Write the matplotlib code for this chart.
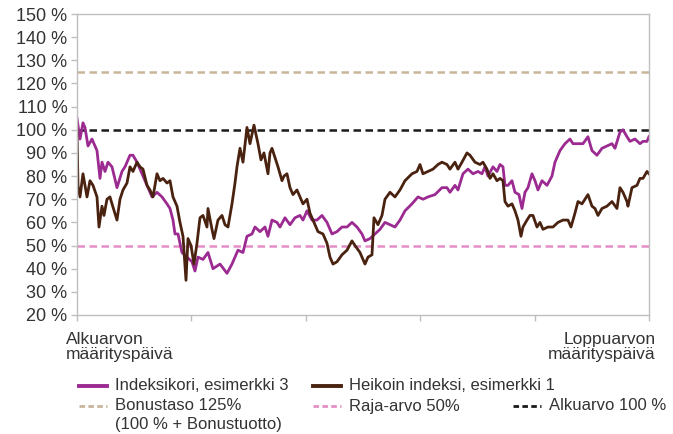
import matplotlib.pyplot as plt
from matplotlib.lines import Line2D

# Päivät (indeksi alusta loppuun) ja arvot prosentteina
purple_days = [0, 3, 6, 8, 11, 15, 17, 20, 23, 25, 28, 31, 35, 40, 45, 48, 53, 56, 60, 65,
               70, 75, 80, 85, 90, 93, 96, 98, 101, 105, 110, 115, 118, 121, 126, 131, 136, 143, 150, 155,
               161, 166, 170, 175, 178, 183, 188, 191, 195, 200, 203, 208, 213, 218, 223, 226, 230, 235, 240, 245,
               250, 255, 260, 265, 270, 275, 280, 285, 288, 293, 298, 303, 308, 313, 318, 323, 328, 335, 341, 346,
               351, 358, 365, 370, 373, 378, 381, 386, 391, 396, 401, 405, 408, 411, 416, 420, 423, 426, 428, 431,
               435, 438, 442, 445, 448, 451, 455, 458, 461, 465, 470, 475, 478, 483, 488, 493, 496, 501, 506, 511,
               515, 520, 525, 530, 535, 538, 543, 546, 550, 553, 558, 563, 566, 570, 572]
purple_vals = [105, 96, 103, 101, 93, 96, 94, 91, 79, 86, 82, 86, 84, 75, 82, 84, 89, 89, 86, 81,
               76, 71, 73, 71, 68, 66, 61, 55, 55, 47, 45, 43, 39, 45, 44, 47, 40, 42, 38, 42,
               48, 47, 54, 55, 58, 56, 58, 54, 61, 60, 58, 62, 59, 62, 63, 61, 65, 61, 61, 63,
               60, 55, 56, 58, 58, 60, 58, 55, 52, 53, 55, 57, 60, 59, 58, 61, 65, 68, 71, 70,
               71, 72, 75, 75, 73, 76, 74, 81, 83, 81, 82, 81, 84, 80, 84, 82, 85, 84, 76, 76,
               78, 73, 72, 66, 73, 75, 81, 78, 74, 78, 76, 80, 86, 91, 94, 96, 94, 94, 94, 97,
               91, 89, 92, 93, 94, 92, 99, 100, 97, 95, 96, 94, 95, 95, 97]

brown_days = [0, 1, 3, 6, 10, 13, 16, 20, 22, 25, 27, 30, 33, 35, 40, 43, 46, 50, 53, 56,
              60, 63, 66, 70, 73, 76, 80, 83, 86, 90, 93, 96, 100, 103, 106, 109, 111, 114, 117, 120,
              123, 126, 130, 131, 135, 137, 141, 145, 148, 151, 155, 158, 160, 163, 166, 170, 173, 177, 181, 184,
              187, 191, 193, 195, 198, 201, 205, 207, 210, 213, 216, 220, 223, 226, 230, 233, 238, 241, 246, 250,
              253, 256, 260, 265, 270, 275, 278, 283, 288, 291, 295, 297, 301, 305, 308, 313, 318, 323, 328, 335,
              340, 343, 346, 351, 356, 361, 365, 370, 373, 378, 381, 385, 390, 393, 398, 403, 406, 410, 413, 416,
              420, 423, 426, 428, 431, 435, 438, 441, 444, 446, 450, 453, 456, 460, 463, 466, 471, 476, 481, 486,
              491, 494, 498, 501, 505, 508, 511, 515, 518, 521, 525, 530, 535, 540, 543, 546, 550, 551, 555, 560,
              563, 566, 570, 572]
brown_vals = [100, 76, 71, 81, 71, 78, 76, 71, 58, 67, 63, 70, 71, 68, 61, 70, 74, 77, 84, 82,
              86, 84, 83, 76, 74, 71, 81, 78, 79, 77, 78, 71, 67, 60, 54, 35, 53, 50, 42, 51,
              62, 63, 58, 66, 57, 53, 61, 63, 59, 58, 68, 77, 84, 92, 86, 101, 94, 102, 94, 87,
              90, 81, 90, 92, 88, 84, 78, 80, 81, 75, 72, 74, 71, 68, 70, 64, 59, 56, 55, 51,
              45, 42, 43, 46, 48, 52, 50, 47, 42, 45, 46, 62, 59, 63, 70, 73, 71, 74, 78, 81,
              82, 85, 81, 82, 83, 85, 86, 85, 83, 86, 83, 86, 90, 89, 86, 85, 86, 83, 79, 81,
              78, 79, 78, 69, 67, 68, 65, 61, 54, 58, 61, 63, 63, 58, 60, 57, 58, 58, 60, 61,
              61, 58, 64, 69, 68, 70, 72, 67, 66, 63, 66, 67, 69, 66, 75, 73, 69, 67, 75, 76,
              79, 79, 82, 81]

bonus_level = 125
barrier_level = 50
start_level = 100
period_end = 572
y_ticks = list(range(20, 151, 10))

PURPLE = '#9b2a91'
BROWN = '#4a2210'
TAN = '#c9b59b'
PINK = '#e48fc5'
BLACK = '#1a1a1a'
GRID = '#bfbfbf'
TEXT = '#333333'

plt.rcParams['font.family'] = ['Liberation Sans', 'DejaVu Sans']

W, H = 673, 434
fig = plt.figure(figsize=(W / 100, H / 100), dpi=100)
ax = fig.add_axes([0.1144, 0.2742, 0.8499, 0.6935])

dash_kw = dict(linewidth=1.8, dashes=(3, 1.8))
ax.axhline(bonus_level, color=TAN, **dash_kw)
ax.axhline(barrier_level, color=PINK, **dash_kw)
ax.axhline(start_level, color=BLACK, **dash_kw)
ax.plot(purple_days, purple_vals, color=PURPLE, linewidth=2.0, solid_joinstyle='round')
ax.plot(brown_days, brown_vals, color=BROWN, linewidth=2.0, solid_joinstyle='round')

ax.set_xlim(0, period_end)
ax.set_ylim(20, 150)
ax.set_yticks(y_ticks)
ax.set_yticklabels([f'{v} %' for v in y_ticks], fontsize=13, color=TEXT)
ax.set_xticks([period_end * i / 5 for i in range(6)])
ax.set_xticklabels([])
ax.tick_params(axis='both', direction='out', length=4, color=GRID, width=1)
ax.tick_params(axis='y', pad=3)
for s in ax.spines.values():
    s.set_color(GRID)
    s.set_linewidth(1)

ax.annotate('Alkuarvon\nmäärityspäivä', xy=(0, 0), xycoords=('data', 'axes fraction'),
            xytext=(-8, -12), textcoords='offset points', ha='left', va='top',
            fontsize=12.5, color=TEXT, linespacing=1.0)
ax.annotate('Loppuarvon\nmäärityspäivä', xy=(period_end, 0), xycoords=('data', 'axes fraction'),
            xytext=(5, -12), textcoords='offset points', ha='right', va='top', multialignment='right',
            fontsize=12.5, color=TEXT, linespacing=1.0)


# selite piirretään käsin, jotta rivit asettuvat kuten alkuperäisessä
def legend_entry(x0, y, label, color, dashed):
    fx0, fx1, fy = x0 / W, (x0 + 28) / W, 1 - y / H
    kw = dict(linewidth=2.0, dashes=(2, 1.2)) if dashed else dict(linewidth=2.8)
    fig.add_artist(Line2D([fx0, fx1], [fy, fy], color=color, transform=fig.transFigure, **kw))
    fig.text((x0 + 36) / W, fy, label, fontsize=12, color=TEXT, ha='left', va='center',
             linespacing=1.15)


legend_entry(79, 386, 'Indeksikori, esimerkki 3', PURPLE, False)
legend_entry(313, 386, 'Heikoin indeksi, esimerkki 1', BROWN, False)
legend_entry(79, 406, 'Bonustaso 125%', TAN, True)
legend_entry(313, 406, 'Raja-arvo 50%', PINK, True)
legend_entry(513, 406, 'Alkuarvo 100 %', BLACK, True)
fig.text(115 / W, 1 - 425 / H, '(100 % + Bonustuotto)', fontsize=12, color=TEXT,
         ha='left', va='center')

fig.savefig('out.png', dpi=100)
